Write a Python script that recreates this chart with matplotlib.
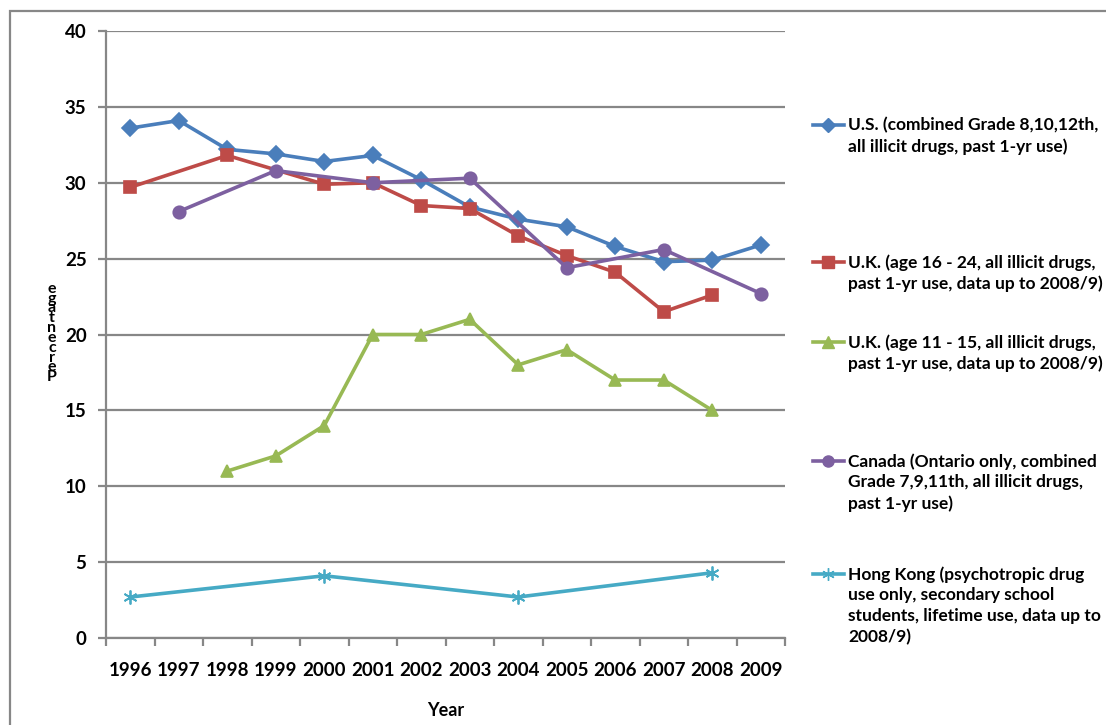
import numpy as np
import matplotlib
matplotlib.use("Agg")
import matplotlib.pyplot as plt
from matplotlib.lines import Line2D
from matplotlib.patches import Rectangle

plt.rcParams['font.family'] = ['Lato', 'DejaVu Sans']

years = ['1996', '1997', '1998', '1999', '2000', '2001', '2002',
         '2003', '2004', '2005', '2006', '2007', '2008', '2009']

us_x = [0, 1, 2, 3, 4, 5, 6, 7, 8, 9, 10, 11, 12, 13]
us_y = [33.6, 34.1, 32.2, 31.9, 31.4, 31.8, 30.2, 28.4, 27.6, 27.1, 25.8, 24.8, 24.9, 25.9]

uk16_x = [0, 2, 4, 5, 6, 7, 8, 9, 10, 11, 12]
uk16_y = [29.7, 31.8, 29.9, 30.0, 28.5, 28.3, 26.5, 25.2, 24.1, 21.5, 22.6]

uk11_x = [2, 3, 4, 5, 6, 7, 8, 9, 10, 11, 12]
uk11_y = [11.0, 12.0, 14.0, 20.0, 20.0, 21.0, 18.0, 19.0, 17.0, 17.0, 15.0]

can_x = [1, 3, 5, 7, 9, 11, 13]
can_y = [28.1, 30.8, 30.0, 30.3, 24.4, 25.6, 22.7]

hk_x = [0, 4, 8, 12]
hk_y = [2.7, 4.1, 2.7, 4.3]

labels = [
    "U.S. (combined Grade 8,10,12th,\nall illicit drugs, past 1-yr use)",
    "U.K. (age 16 - 24, all illicit drugs,\npast 1-yr use, data up to 2008/9)",
    "U.K. (age 11 - 15, all illicit drugs,\npast 1-yr use, data up to 2008/9)",
    "Canada (Ontario only, combined\nGrade 7,9,11th, all illicit drugs,\npast 1-yr use)",
    "Hong Kong (psychotropic drug\nuse only, secondary school\nstudents, lifetime use, data up to\n2008/9)",
]
colors = ['#4A7EBB', '#BE4B48', '#98B954', '#7D60A0', '#46AAC5']
markers = ['D', 's', '^', 'o', (6, 2, 0)]
msizes = [8.5, 9, 9, 9, 10]

W, H = 1106, 725
fig = plt.figure(figsize=(W / 100, H / 100), dpi=100)
ax = fig.add_axes([106 / W, 1 - 638 / H, (785 - 106) / W, (638 - 31) / H])

grid_c = '#878787'
series = [(us_x, us_y), (uk16_x, uk16_y), (uk11_x, uk11_y), (can_x, can_y), (hk_x, hk_y)]
for (xs, ys), c, m, ms in zip(series, colors, markers, msizes):
    ax.plot(xs, ys, color=c, lw=2.6, marker=m, markersize=ms,
            markeredgecolor=c, markeredgewidth=1.2 if m != markers[4] else 1.3,
            solid_joinstyle='round', zorder=3)

ax.set_xlim(-0.5, 13.5)
ax.set_ylim(0, 40)
ax.set_yticks(np.arange(0, 41, 5))
ax.yaxis.grid(True, color=grid_c, lw=1.6)
ax.set_axisbelow(True)
ax.set_xticks(range(len(years)))
ax.set_xticklabels(years)
ax.set_xticks(np.arange(-0.5, 14, 1), minor=True)
ax.tick_params(axis='x', which='major', length=0, pad=17, labelsize=13.5)
ax.tick_params(axis='x', which='minor', length=6, width=1.6, color=grid_c, direction='out')
ax.tick_params(axis='y', length=6, width=1.6, color=grid_c, direction='out', pad=8, labelsize=13.5)
for lab in ax.get_xticklabels() + ax.get_yticklabels():
    lab.set_fontweight('bold')

for s in ['top', 'right']:
    ax.spines[s].set_visible(False)
for s in ['left', 'bottom']:
    ax.spines[s].set_color(grid_c)
    ax.spines[s].set_linewidth(1.6)

ax.set_xlabel('Year', fontsize=13, fontweight='bold', labelpad=17)

# stacked y label, letters piled upwards like the original
fig.text(52 / W, 1 - 333 / H, '\n'.join('Percentage'[::-1]), ha='center', va='center',
         fontsize=11.5, fontweight='bold', linespacing=0.62)

# legend drawn by hand
leg_y = [125, 262, 342, 461, 574]
for lab, c, m, ms, yp in zip(labels, colors, markers, msizes, leg_y):
    yf = 1 - yp / H
    fig.add_artist(Line2D([813 / W, 828 / W, 844 / W], [yf, yf, yf], color=c, lw=2.6,
                          marker=m, markersize=ms - 1, markevery=[1],
                          markeredgecolor=c, transform=fig.transFigure))
    fig.text(848 / W, 1 - (yp - 8) / H, lab, ha='left', va='top',
             fontsize=12.5, fontweight='bold', linespacing=1.36)

fig.add_artist(Rectangle((10 / W, -0.1), 1.2, 1 - 11 / H + 0.1, transform=fig.transFigure,
                         fill=False, edgecolor=grid_c, lw=1.6))

fig.savefig('out.png', dpi=100)
